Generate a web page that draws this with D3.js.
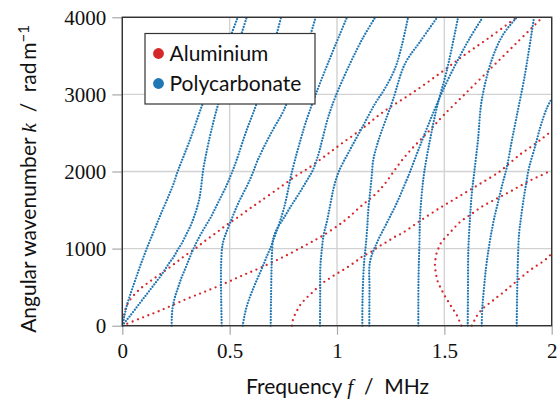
<!DOCTYPE html>
<html>
<head>
<meta charset="utf-8">
<script src="https://cdn.jsdelivr.net/npm/d3@7"></script>
<style>
  html, body { margin: 0; padding: 0; background: #fff; }
  svg { display: block; }
</style>
</head>
<body>
<svg id="chart" width="559" height="401"></svg>
<script>
// Dispersion curves: angular wavenumber k (rad/m) against frequency f (MHz)
// Each mode is a list of [f, k] pairs.

// Aluminium plate modes
const alA0 = [[0,0],[0.0056,100],[0.0126,191],[0.0219,269],[0.0359,334],[0.0545,398],[0.0778,463],[0.1057,528],[0.1383,593],[0.1756,665],[0.2361,788],[0.2874,898],[0.3386,996],[0.3852,1099],[0.4365,1203],[0.4830,1301],[0.5343,1398],[0.5855,1502],[0.6368,1602],[0.7346,1794],[0.8138,1952],[0.8649,2040],[0.9395,2190],[1.0140,2346],[1.1164,2553],[1.2143,2770],[1.3400,2998],[1.4658,3245],[1.5869,3497],[1.7126,3743],[1.8337,3994]];
const alS0 = [[0,0],[0.0885,100],[0.1756,195],[0.2990,347],[0.3898,447],[0.4783,550],[0.5575,649],[0.6414,749],[0.7531,896],[0.8556,1047],[0.9208,1147],[1.0047,1298],[1.0512,1398],[1.1118,1550],[1.1770,1700],[1.2189,1826],[1.2562,1969],[1.2934,2112],[1.3400,2268],[1.3866,2404],[1.4425,2566],[1.4983,2735],[1.5962,3005],[1.7126,3327],[1.8294,3647],[1.9548,3994]];
const alA1 = [[0.7904,0],[0.7937,65],[0.7983,109],[0.8058,152],[0.8137,195],[0.8244,252],[0.8370,295],[0.8524,347],[0.8710,395],[0.8915,447],[0.9148,511],[0.9380,563],[0.9613,606],[0.9846,649],[1.0126,697],[1.0387,740],[1.0666,792],[1.0932,844],[1.1197,901],[1.1504,944],[1.1784,996],[1.2096,1051],[1.2375,1096],[1.2687,1151],[1.2995,1194],[1.3293,1246],[1.3866,1359],[1.4797,1528],[1.5729,1684],[1.6661,1840],[1.7559,1995],[1.8058,2112],[1.8570,2229],[1.9036,2320],[1.9595,2436],[2.0,2527]];
const alS1 = [[1.579,0],[1.5729,35],[1.5650,100],[1.5543,152],[1.5417,208],[1.5296,260],[1.5156,325],[1.5030,382],[1.4923,437],[1.4830,489],[1.4718,554],[1.4644,619],[1.4611,684],[1.4565,749],[1.4565,814],[1.4597,879],[1.4644,944],[1.4718,996],[1.4797,1051],[1.4904,1096],[1.5063,1147],[1.5217,1194],[1.5389,1246],[1.5575,1303],[1.5776,1355],[1.5994,1398],[1.6227,1441],[1.6507,1498],[1.6786,1550],[1.7126,1602],[1.7438,1648],[1.7746,1693],[1.8104,1745],[1.8444,1800],[1.8803,1852],[1.9143,1904],[1.9534,1952],[1.9842,1995],[2.0,2014]];
const alS2 = [[1.6274,0],[1.6381,57],[1.6474,109],[1.6614,165],[1.6768,217],[1.6973,265],[1.7159,304],[1.7359,347],[1.7560,395],[1.7778,437],[1.7979,489],[1.8184,532],[1.8398,589],[1.8649,641],[1.8882,697],[1.9143,749],[1.9376,792],[1.9655,844],[1.9874,901],[2.0,931]];

// Polycarbonate plate modes
const pcA0 = [[0,0],[0.0056,74],[0.0126,165],[0.0219,269],[0.0335,373],[0.0475,489],[0.0638,619],[0.0801,749],[0.0964,872],[0.1150,1009],[0.1360,1151],[0.1570,1294],[0.1779,1437],[0.1989,1573],[0.2198,1709],[0.2385,1839],[0.2571,1995],[0.2734,2112],[0.3153,2410],[0.3745,2878],[0.4411,3332],[0.5096,3795],[0.5370,3994]];
const pcS0 = [[0,0],[0.0172,61],[0.0359,126],[0.0592,210],[0.0824,295],[0.1057,379],[0.1290,463],[0.1523,548],[0.1756,632],[0.1989,729],[0.2222,827],[0.2408,898],[0.2594,989],[0.2781,1073],[0.2990,1190],[0.3177,1294],[0.3340,1411],[0.3479,1528],[0.3596,1658],[0.3666,1787],[0.3726,1930],[0.3782,2047],[0.3898,2216],[0.4131,2514],[0.4471,2878],[0.5016,3345],[0.5561,3795],[0.5794,4000]];
const pcM1 = [[0.2301,0],[0.2306,113],[0.2347,243],[0.2455,373],[0.2608,502],[0.2771,632],[0.2967,762],[0.3153,892],[0.3354,1022],[0.3586,1151],[0.3852,1281],[0.4131,1411],[0.4364,1541],[0.4597,1671],[0.4830,1804],[0.5095,1978],[0.5328,2151],[0.5762,2514],[0.6251,2878],[0.6740,3345],[0.7205,3799],[0.7392,3994]];
const pcM2 = [[0.4630,0],[0.4606,334],[0.4597,593],[0.4606,827],[0.4676,1060],[0.4830,1199],[0.5017,1329],[0.5203,1459],[0.5403,1589],[0.5636,1719],[0.5869,1848],[0.6088,1989],[0.6274,2125],[0.6647,2346],[0.7066,2566],[0.7517,2791],[0.8137,3241],[0.8556,3579],[0.8999,3994]];
const pcM3 = [[0.5608,0],[0.5682,117],[0.5794,247],[0.5948,376],[0.6134,506],[0.6334,636],[0.6539,766],[0.6726,896],[0.6926,1025],[0.7066,1134],[0.7205,1242],[0.7368,1372],[0.7508,1502],[0.7625,1632],[0.7741,1787],[0.7857,1943],[0.8044,2151],[0.8277,2384],[0.8523,2618],[0.8989,2985],[0.9720,3501],[1.0466,4000]];
const pcM4 = [[0.6912,0],[0.6926,334],[0.6949,723],[0.6973,944],[0.7019,1112],[0.7112,1199],[0.7266,1285],[0.7471,1372],[0.7657,1459],[0.7844,1545],[0.8044,1632],[0.8244,1719],[0.8430,1804],[0.8663,1913],[0.8882,2021],[0.9115,2203],[0.9301,2397],[0.9581,2696],[0.9921,2965],[1.0605,3397],[1.1211,3734],[1.1770,3994]];
const pcM5 = [[0.9208,0],[0.9218,463],[0.9222,749],[0.9287,966],[0.9380,1181],[0.9534,1355],[0.9688,1571],[0.9846,1787],[1.0079,1995],[1.0605,2281],[1.1164,2566],[1.1770,2878],[1.2250,3085],[1.2715,3345],[1.3027,3643],[1.3307,3994]];
const pcM6 = [[1.1178,0],[1.1188,334],[1.1225,636],[1.1272,853],[1.1351,1070],[1.1411,1285],[1.1458,1502],[1.1537,1719],[1.1616,1934],[1.1691,2151],[1.1910,2384],[1.2236,2644],[1.2608,2930],[1.3167,3397],[1.3866,3682],[1.4658,3994]];
const pcM7 = [[1.1504,0],[1.1514,463],[1.1537,827],[1.1849,1070],[1.2315,1329],[1.2781,1589],[1.3246,1891],[1.3400,1995],[1.3866,2333],[1.4425,2722],[1.5030,3111],[1.5636,3449],[1.6195,3734],[1.6777,3994]];
const pcM8 = [[1.3787,0],[1.3796,593],[1.3843,1112],[1.3866,1398],[1.3945,1700],[1.4066,1995],[1.4332,2410],[1.4658,2839],[1.5123,3319],[1.5636,3994]];
const pcM9 = [[1.6088,0],[1.6101,463],[1.6116,966],[1.6195,1398],[1.6274,1700],[1.6395,1995],[1.6567,2410],[1.6740,2921],[1.7205,3445],[1.7732,3773],[1.8360,3994]];
const pcM10 = [[1.6740,0],[1.6768,230],[1.6847,489],[1.6940,749],[1.7047,966],[1.7173,1181],[1.7326,1398],[1.7513,1615],[1.7699,1830],[1.7904,2047],[1.8151,2410],[1.8430,2800],[1.8710,3189],[1.8943,3579],[1.9176,3994]];
const pcM11 = [[1.8370,0],[1.8393,463],[1.8416,749],[1.8477,1181],[1.8570,1398],[1.8677,1615],[1.8803,1830],[1.8943,2047],[1.9222,2320],[1.9502,2605],[1.9781,2826],[2.0,2943]];

const aluminiumModes = [alA0, alS0, alA1, alS1, alS2];
const polycarbonateModes = [pcA0, pcS0, pcM1, pcM2, pcM3, pcM4, pcM5, pcM6, pcM7, pcM8, pcM9, pcM10, pcM11];

const xTicks = [0, 0.5, 1, 1.5, 2];
const xTickLabels = ["0", "0.5", "1", "1.5", "2"];
const yTicks = [0, 1000, 2000, 3000, 4000];
const yTickLabels = ["0", "1000", "2000", "3000", "4000"];
const legendLabels = ["Aluminium", "Polycarbonate"];
const seriesColors = ["#d62728", "#1f77b4"];

const svg = d3.select("#chart");
const plot = { left: 122.3, right: 551.7, top: 17.3, bottom: 325.7 };
const sans = "Lato, 'DejaVu Sans', sans-serif";
const serif = "'Liberation Serif', 'DejaVu Serif', serif";

const x = d3.scaleLinear().domain([0, 2]).range([plot.left, plot.right]);
const y = d3.scaleLinear().domain([0, 4000]).range([plot.bottom, plot.top]);

// grid
const grid = svg.append("g");
grid.selectAll("line.gx").data(xTicks).join("line")
  .attr("x1", d => x(d)).attr("x2", d => x(d))
  .attr("y1", plot.top).attr("y2", plot.bottom)
  .attr("stroke", "#d2d2d2").attr("stroke-width", 1.4);
grid.selectAll("line.gy").data(yTicks).join("line")
  .attr("y1", d => y(d)).attr("y2", d => y(d))
  .attr("x1", plot.left).attr("x2", plot.right)
  .attr("stroke", "#d2d2d2").attr("stroke-width", 1.4);

// axes with outward ticks
const xAxis = d3.axisBottom(x).tickValues(xTicks).tickFormat((d, i) => xTickLabels[i]).tickSize(9).tickPadding(5);
const yAxis = d3.axisLeft(y).tickValues(yTicks).tickFormat((d, i) => yTickLabels[i]).tickSize(10).tickPadding(6);

const gx = svg.append("g").attr("transform", `translate(0,${plot.bottom})`).call(xAxis);
const gy = svg.append("g").attr("transform", `translate(${plot.left},0)`).call(yAxis);
[gx, gy].forEach(g => {
  g.select(".domain").remove();
  g.selectAll(".tick line").attr("stroke", "#a8a8a8").attr("stroke-width", 1.2);
  g.selectAll(".tick text")
    .attr("font-family", serif)
    .attr("font-size", 21).attr("fill", "#111");
});
gy.selectAll(".tick text").attr("dy", "0.34em");
gx.selectAll(".tick text").attr("dy", "0.85em");

// curves
svg.append("clipPath").attr("id", "plotClip").append("rect")
  .attr("x", plot.left).attr("y", plot.top - 2)
  .attr("width", plot.right - plot.left + 2).attr("height", plot.bottom - plot.top + 4);

const line = d3.line().x(d => x(d[0])).y(d => y(d[1])).curve(d3.curveCatmullRom.alpha(0.5));
const curves = svg.append("g").attr("clip-path", "url(#plotClip)");

curves.selectAll("path.al").data(aluminiumModes).join("path")
  .attr("class", "al")
  .attr("d", line).attr("fill", "none")
  .attr("stroke", seriesColors[0]).attr("stroke-width", 2.3)
  .attr("stroke-linecap", "round").attr("stroke-dasharray", "0 5.6");

curves.selectAll("path.pc").data(polycarbonateModes).join("path")
  .attr("class", "pc")
  .attr("d", line).attr("fill", "none")
  .attr("stroke", seriesColors[1]).attr("stroke-width", 2.3)
  .attr("stroke-linecap", "round").attr("stroke-dasharray", "0 2.9");

// frame
svg.append("rect")
  .attr("x", plot.left).attr("y", plot.top)
  .attr("width", plot.right - plot.left).attr("height", plot.bottom - plot.top)
  .attr("fill", "none").attr("stroke", "#333").attr("stroke-width", 1.4);

// legend
const legend = svg.append("g");
legend.append("rect").attr("x", 145).attr("y", 33.5).attr("width", 170).attr("height", 70.5)
  .attr("fill", "#fff").attr("stroke", "#333").attr("stroke-width", 1.2);
legendLabels.forEach((lab, i) => {
  const cy = 53.5 + i * 30;
  legend.append("circle").attr("cx", 158.5).attr("cy", cy).attr("r", 5.4).attr("fill", seriesColors[i]);
  legend.append("text").attr("x", 169.5).attr("y", cy + 7.2)
    .attr("font-family", sans).attr("font-size", 21).attr("fill", "#111")
    .text(lab);
});

// axis titles
const xt = svg.append("text").attr("x", 337.5).attr("y", 394).attr("text-anchor", "middle")
  .attr("font-family", sans).attr("font-size", 21).attr("fill", "#111");
xt.append("tspan").text("Frequency\u00a0");
xt.append("tspan").attr("font-family", serif).attr("font-style", "italic").text("f");
xt.append("tspan").text("\u00a0\u00a0/\u00a0\u00a0MHz");

const yt = svg.append("text").attr("transform", "translate(36,179) rotate(-90)").attr("text-anchor", "middle")
  .attr("font-family", sans).attr("font-size", 21).attr("fill", "#111");
yt.append("tspan").text("Angular wavenumber\u00a0");
yt.append("tspan").attr("font-family", serif).attr("font-style", "italic").text("k");
yt.append("tspan").text("\u00a0\u00a0/\u00a0\u00a0rad\u2009m");
yt.append("tspan").attr("dy", "-0.45em").attr("font-size", 15).text("\u22121");
</script>
</body>
</html>
